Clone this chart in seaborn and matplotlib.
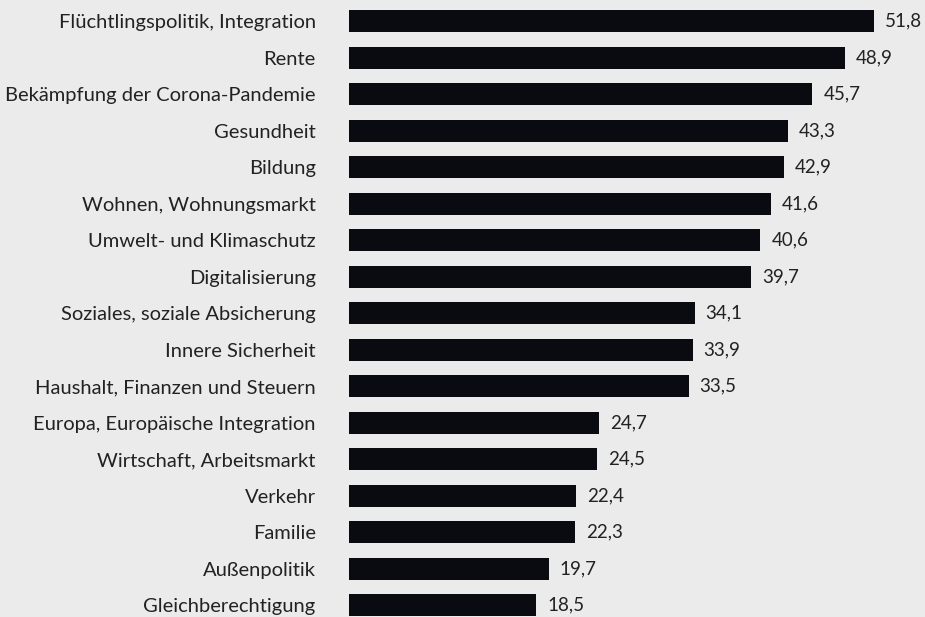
import pandas as pd
import matplotlib.pyplot as plt
import seaborn as sns

topics = [
    "Flüchtlingspolitik, Integration",
    "Rente",
    "Bekämpfung der Corona-Pandemie",
    "Gesundheit",
    "Bildung",
    "Wohnen, Wohnungsmarkt",
    "Umwelt- und Klimaschutz",
    "Digitalisierung",
    "Soziales, soziale Absicherung",
    "Innere Sicherheit",
    "Haushalt, Finanzen und Steuern",
    "Europa, Europäische Integration",
    "Wirtschaft, Arbeitsmarkt",
    "Verkehr",
    "Familie",
    "Außenpolitik",
    "Gleichberechtigung",
]
values = [51.8, 48.9, 45.7, 43.3, 42.9, 41.6, 40.6, 39.7, 34.1, 33.9,
          33.5, 24.7, 24.5, 22.4, 22.3, 19.7, 18.5]

BG = "#ebebeb"
BAR = "#0a0b10"
TEXT = "#222222"

sns.set_style("white")
plt.rcParams["font.family"] = ["Lato", "DejaVu Sans"]

df = pd.DataFrame({"topic": topics, "value": values})

fig = plt.figure(figsize=(9.25, 6.17), dpi=100, facecolor=BG)
ax = fig.add_axes([349 / 925, 1 / 617, 576 / 925, 613 / 617])
ax.set_facecolor(BG)

sns.barplot(data=df, x="value", y="topic", orient="h", color=BAR,
            width=0.6, saturation=1, linewidth=0, ax=ax)

ax.set_xlim(0, 576 / 10.135)
ax.set_ylim(16.3, -0.5)

labels = [f"{v:.1f}".replace(".", ",") for v in values]
ax.bar_label(ax.containers[0], labels=labels, padding=8, fontsize=13.5,
             color=TEXT)

ax.set_xlabel("")
ax.set_ylabel("")
ax.set_xticks([])
ax.tick_params(axis="y", length=0, pad=24, labelsize=14.5, labelcolor=TEXT)
sns.despine(ax=ax, left=True, bottom=True)

fig.savefig("out.png", dpi=100, facecolor=BG)
